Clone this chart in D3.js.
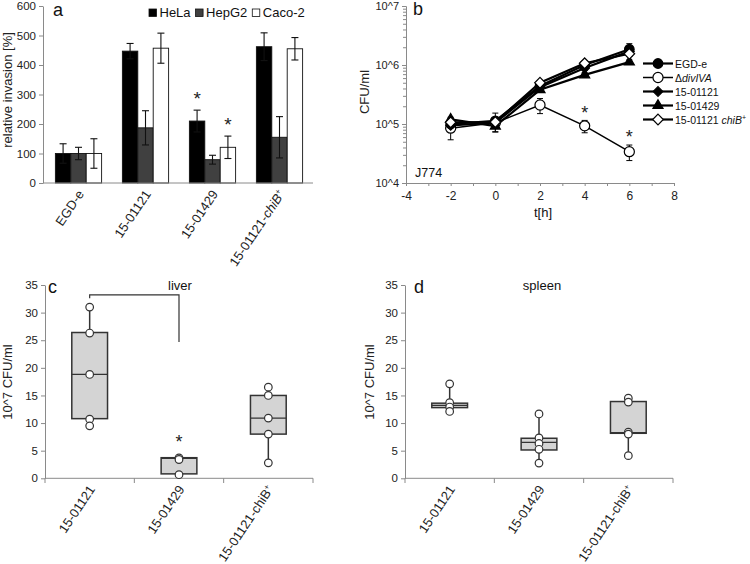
<!DOCTYPE html>
<html><head><meta charset="utf-8">
<script src="https://cdn.jsdelivr.net/npm/d3@7"></script>
<style>body{margin:0;background:#fff}svg{font-family:"Liberation Sans",Arial,sans-serif}</style>
</head><body><svg id="fig" width="750" height="564"></svg>
<script>
// ---------- Panel a: relative invasion ----------
const invStrains = ["EGD-e","15-01121","15-01429","15-01121-chiB+"];
const cellLines = ["HeLa","HepG2","Caco-2"];
const invHeLa  = [100,447,210,462];
const invHepG2 = [100,187,79,155];
const invCaco  = [100,457,121,455];
const errHeLa  = [33,26,37,47];
const errHepG2 = [21,58,15,70];
const errCaco  = [50,51,38,38];
const invTicks = [0,100,200,300,400,500,600];
const invSignif = [[2,0],[2,2]]; // [strain index, cell line index]

// ---------- Panel b: growth in J774 ----------
const hours = [-2,0,2,4,6];
const hourTicks = [-4,-2,0,2,4,6,8];
const cfuTicks = [1e4,1e5,1e6,1e7];
const growthSeries = ["EGD-e","ΔdivIVA","15-01121","15-01429","15-01121 chiB+"];
const cfuEGDe   = [1.0e5,1.13e5,4.4e5,1.0e6,1.85e6];
const cfuDivIVA = [8.5e4,1.05e5,2.1e5,9.3e4,3.4e4];
const cfu01121  = [9.5e4,1.05e5,4.2e5,8.9e5,1.7e6];
const cfu01429  = [1.2e5,9.2e4,3.8e5,6.8e5,1.12e6];
const cfuChiB   = [1.07e5,1.08e5,5.0e5,1.07e6,1.55e6];
const sdEGDe    = [1.5e4,4.0e4,5e4,1.0e5,4.5e5];
const sdDivIVA  = [3.1e4,1.0e4,6.0e4,2.2e4,1.0e4];
const sd01121   = [1.0e4,1.0e4,4e4,8e4,1.5e5];
const sd01429   = [1.0e4,1.8e4,3e4,6e4,1.0e5];
const sdChiB    = [1.0e4,1.0e4,3e4,8e4,1.2e5];
const growthSignifHours = [4,6];

// ---------- Panels c, d: organ burden ----------
const organStrains = ["15-01121","15-01429","15-01121-chiB+"];
const organTicks = [0,5,10,15,20,25,30,35];
const liverPoints = [[31.0,26.3,18.8,10.7,9.5],[3.7,3.4,0.65],[16.5,15.0,10.9,8.0,2.8]];
const liverQ1  = [10.8,0.8,8.0];
const liverMed = [18.8,3.6,10.9];
const liverQ3  = [26.4,3.73,15.0];
const spleenPoints = [[17.1,13.7,12.9,12.1],[11.65,7.3,6.3,5.25,2.75],[14.5,13.8,8.35,8.0,4.1]];
const spleenQ1  = [12.8,5.13,8.15];
const spleenMed = [13.2,6.5,8.25];
const spleenQ3  = [13.6,7.25,13.9];
const liverBracket = [33.2, 32.6, 24.7]; // top, left end, right end (y values)

// ================= drawing =================
const svg = d3.select("#fig");
const axisCol = "#8a8a8a", txtCol = "#222";
function styleAxis(g, fs){
  g.select(".domain").attr("stroke",axisCol);
  g.selectAll(".tick line").attr("stroke",axisCol);
  g.selectAll(".tick text").attr("fill",txtCol).style("font-size",(fs||11)+"px")
   .style("font-family",'"Liberation Sans",Arial,sans-serif');
}
function rotLabels(g, x, labels, y0, italicChi){
  labels.forEach(l=>{
    const cx = x(l) + x.bandwidth()/2 + 6, cy = y0 + 11;
    const t = g.append("text").attr("transform",`translate(${cx},${cy}) rotate(-56)`)
      .attr("text-anchor","end").attr("fill",txtCol).style("font-size","13px");
    const m = l.match(/^(.*-)(chiB)\+$/);
    if(m){
      t.append("tspan").text(m[1]);
      t.append("tspan").text(m[2]).style("font-style",italicChi?"italic":"normal");
      t.append("tspan").text("+").attr("dy",-5).style("font-size","8px");
    } else t.text(l);
  });
}
function panelLabel(x,y,s){svg.append("text").attr("x",x).attr("y",y).text(s).style("font-size","18px").attr("fill","#111");}
function yTitle(x,y,s){svg.append("text").attr("transform",`translate(${x},${y}) rotate(-90)`).attr("text-anchor","middle").style("font-size","13px").attr("fill",txtCol).text(s);}
function star(x,y,fs){svg.append("text").attr("x",x).attr("y",y+fs*0.62).attr("text-anchor","middle").style("font-size",fs+"px").attr("fill","#222").text("*");}

// ---- Panel a ----
{
  const ya = d3.scaleLinear().domain([0,600]).range([183,6]);
  const xa = d3.scaleBand().domain(invStrains).range([45,313]).paddingInner(0.31).paddingOuter(0.155);
  const xs = d3.scaleBand().domain(cellLines).range([0,xa.bandwidth()]);
  const vals = [invHeLa,invHepG2,invCaco], errs=[errHeLa,errHepG2,errCaco];
  const fills = ["#000","#404040","#fff"];
  const g = svg.append("g");
  cellLines.forEach((cl,i)=>{
    invStrains.forEach((s,j)=>{
      const v = vals[i][j];
      g.append("rect").attr("x",xa(s)+xs(cl)).attr("width",xs.bandwidth())
        .attr("y",ya(v)).attr("height",ya(0)-ya(v)).attr("fill",fills[i])
        .attr("stroke","#111").attr("stroke-width",0.9);
    });
  });
  cellLines.forEach((cl,i)=>{
    invStrains.forEach((s,j)=>{
      const v=vals[i][j], e=errs[i][j], cx=xa(s)+xs(cl)+xs.bandwidth()/2;
      g.append("line").attr("x1",cx).attr("x2",cx).attr("y1",ya(v-e)).attr("y2",ya(v+e)).attr("stroke","#111").attr("stroke-width",1.1);
      [v-e,v+e].forEach(w=>g.append("line").attr("x1",cx-3.5).attr("x2",cx+3.5).attr("y1",ya(w)).attr("y2",ya(w)).attr("stroke","#111").attr("stroke-width",1.1));
    });
  });
  invSignif.forEach(([j,i])=>{
    const s=invStrains[j], cl=cellLines[i];
    star(xa(s)+xs(cl)+xs.bandwidth()/2, ya(vals[i][j]+errs[i][j])-17, 19);
  });
  const yax = svg.append("g").attr("transform","translate(43,0)").call(d3.axisLeft(ya).tickValues(invTicks).tickSize(4).tickSizeOuter(0));
  styleAxis(yax,11.5);
  svg.append("line").attr("x1",43).attr("x2",313).attr("y1",183).attr("y2",183).attr("stroke",axisCol);
  rotLabels(svg, xa, invStrains, 183, true);
  // legend
  let lx = 149;
  const lg = svg.append("g");
  cellLines.forEach((cl,i)=>{
    lg.append("rect").attr("x",lx).attr("y",9).attr("width",7.5).attr("height",7.5).attr("fill",fills[i]).attr("stroke","#111").attr("stroke-width",0.8);
    const t = lg.append("text").attr("x",lx+10.5).attr("y",17).text(cl).style("font-size","13px").attr("fill","#111");
    lx += 10.5 + t.node().getComputedTextLength() + 5;
  });
  panelLabel(53,16,"a");
  yTitle(12,90,"relative invasion [%]");
}

// ---- Panel b ----
{
  const xb = d3.scaleLinear().domain([-4,8]).range([406,674]);
  const yb = d3.scaleLog().domain([1e4,1e7]).range([183,6]);
  const vals=[cfuEGDe,cfuDivIVA,cfu01121,cfu01429,cfuChiB];
  const sds=[sdEGDe,sdDivIVA,sd01121,sd01429,sdChiB];
  const syms=[d3.symbolCircle,d3.symbolCircle,d3.symbolDiamond2,d3.symbolTriangle,d3.symbolDiamond2];
  const sizes=[72,80,60,44,72];
  const fillsB=["#000","#fff","#000","#000","#fff"];
  const widths=[2.2,1.5,2.2,2.2,2.2];
  // axes
  const minor=[];
  for(let d=1e4; d<1e7; d*=10) for(let k=2;k<10;k++) minor.push(d*k);
  svg.append("g").attr("transform","translate(406,0)").call(d3.axisLeft(yb).tickValues(minor).tickSize(3).tickFormat("").tickSizeOuter(0)).call(g=>styleAxis(g));
  const yax=svg.append("g").attr("transform","translate(406,0)").call(d3.axisLeft(yb).tickValues(cfuTicks).tickSize(4).tickSizeOuter(0).tickFormat(d=>"10^"+Math.round(Math.log10(d))));
  styleAxis(yax,11);
  const xminor = d3.range(-3,8,2);
  svg.append("g").attr("transform","translate(0,183)").call(d3.axisBottom(xb).tickValues(xminor).tickSize(3).tickFormat("").tickSizeOuter(0)).call(g=>styleAxis(g));
  const xax=svg.append("g").attr("transform","translate(0,183)").call(d3.axisBottom(xb).tickValues(hourTicks).tickSize(3).tickSizeOuter(0).tickFormat(d=>d));
  styleAxis(xax,12);
  xax.selectAll(".tick text").attr("dy","0.9em");
  const line = d3.line().x((d,i)=>xb(hours[i])).y(d=>yb(d));
  const order=[1,3,2,0,4];
  order.forEach(k=>svg.append("path").attr("d",line(vals[k])).attr("fill","none").attr("stroke","#000").attr("stroke-width",widths[k]));
  order.forEach(k=>{
    vals[k].forEach((v,i)=>{
      const x=xb(hours[i]), lo=yb(v-sds[k][i]), hi=yb(v+sds[k][i]);
      svg.append("line").attr("x1",x).attr("x2",x).attr("y1",lo).attr("y2",hi).attr("stroke","#000").attr("stroke-width",1);
      [lo,hi].forEach(y=>svg.append("line").attr("x1",x-3).attr("x2",x+3).attr("y1",y).attr("y2",y).attr("stroke","#000").attr("stroke-width",1));
    });
  });
  order.forEach(k=>{
    vals[k].forEach((v,i)=>{
      svg.append("path").attr("d",d3.symbol(syms[k],sizes[k])()).attr("transform",`translate(${xb(hours[i])},${yb(v)})`)
        .attr("fill",fillsB[k]).attr("stroke","#000").attr("stroke-width",1.2);
    });
  });
  growthSignifHours.forEach(h=>{
    const i=hours.indexOf(h);
    star(xb(h), yb(cfuDivIVA[i]+sdDivIVA[i])-13, 18);
  });
  // legend
  growthSeries.forEach((s,k)=>{
    const y = 63.5 + k*14;
    svg.append("line").attr("x1",643).attr("x2",673).attr("y1",y).attr("y2",y).attr("stroke","#000").attr("stroke-width",widths[k]);
    svg.append("path").attr("d",d3.symbol(syms[k],sizes[k])()).attr("transform",`translate(658,${y})`).attr("fill",fillsB[k]).attr("stroke","#000").attr("stroke-width",1.2);
    const t = svg.append("text").attr("x",675).attr("y",y+4).style("font-size","10.5px").attr("fill","#111");
    if(s.startsWith("Δ")){ t.append("tspan").text("Δ"); t.append("tspan").text(s.slice(1)).style("font-style","italic"); }
    else if(s.endsWith("chiB+")){ t.append("tspan").text(s.replace("chiB+","")); t.append("tspan").text("chiB").style("font-style","italic"); t.append("tspan").text("+").attr("dy",-4).style("font-size","7px"); }
    else t.text(s);
  });
  svg.append("text").attr("x",415).attr("y",177).text("J774").style("font-size","12.5px").attr("fill","#111");
  svg.append("text").attr("x",543).attr("y",217).attr("text-anchor","middle").text("t[h]").style("font-size","13px").attr("fill","#111");
  panelLabel(413,15,"b");
  yTitle(369,92,"CFU/ml");
}

// ---- Panels c and d ----
function boxPanel(x0, points, q1, med, q3, label, lx){
  const y = d3.scaleLinear().domain([0,35]).range([478.3,285]);
  const x = d3.scaleBand().domain(organStrains).range([x0,x0+268]).paddingInner(0.6).paddingOuter(0.3);
  const yax = svg.append("g").attr("transform",`translate(${x0},0)`).call(d3.axisLeft(y).tickValues(organTicks).tickSize(4).tickSizeOuter(0));
  styleAxis(yax,11.5);
  svg.append("line").attr("x1",x0).attr("x2",x0+268).attr("y1",478.3).attr("y2",478.3).attr("stroke",axisCol);
  const step = x.step();
  d3.range(4).forEach(i=>svg.append("line").attr("x1",x0+i*step).attr("x2",x0+i*step).attr("y1",478.3).attr("y2",483).attr("stroke",axisCol));
  organStrains.forEach((s,i)=>{
    const cx = x(s)+x.bandwidth()/2;
    const mn=d3.min(points[i]), mx=d3.max(points[i]);
    svg.append("line").attr("x1",cx).attr("x2",cx).attr("y1",y(mn)).attr("y2",y(mx)).attr("stroke","#333").attr("stroke-width",1.5);
    svg.append("rect").attr("x",x(s)).attr("width",x.bandwidth()).attr("y",y(q3[i])).attr("height",y(q1[i])-y(q3[i]))
      .attr("fill","#d4d4d4").attr("stroke","#333").attr("stroke-width",1.5);
    svg.append("line").attr("x1",x(s)).attr("x2",x(s)+x.bandwidth()).attr("y1",y(med[i])).attr("y2",y(med[i])).attr("stroke","#333").attr("stroke-width",1.3);
    points[i].forEach(v=>svg.append("circle").attr("cx",cx).attr("cy",y(v)).attr("r",3.8).attr("fill","#fff").attr("stroke","#333").attr("stroke-width",1.2));
  });
  rotLabels(svg, x, organStrains, 478.3, false);
  svg.append("text").attr("x",lx).attr("y",290).attr("text-anchor","middle").text(label).style("font-size","13px").attr("fill","#111");
  return {x,y};
}
{
  const {x,y} = boxPanel(45, liverPoints, liverQ1, liverMed, liverQ3, "liver", 180);
  const c1 = x(organStrains[0])+x.bandwidth()/2, c2 = x(organStrains[1])+x.bandwidth()/2;
  svg.append("path").attr("d",`M${c1},${y(liverBracket[1])}V${y(liverBracket[0])}H${c2}V${y(liverBracket[2])}`)
    .attr("fill","none").attr("stroke","#333").attr("stroke-width",1.2);
  star(c2, y(liverQ3[1])-21, 18);
  panelLabel(48,293,"c");
  yTitle(12,382,"10^7 CFU/ml");
}
{
  boxPanel(405, spleenPoints, spleenQ1, spleenMed, spleenQ3, "spleen", 542);
  panelLabel(414,293,"d");
  yTitle(374,382,"10^7 CFU/ml");
}
</script></body></html>
